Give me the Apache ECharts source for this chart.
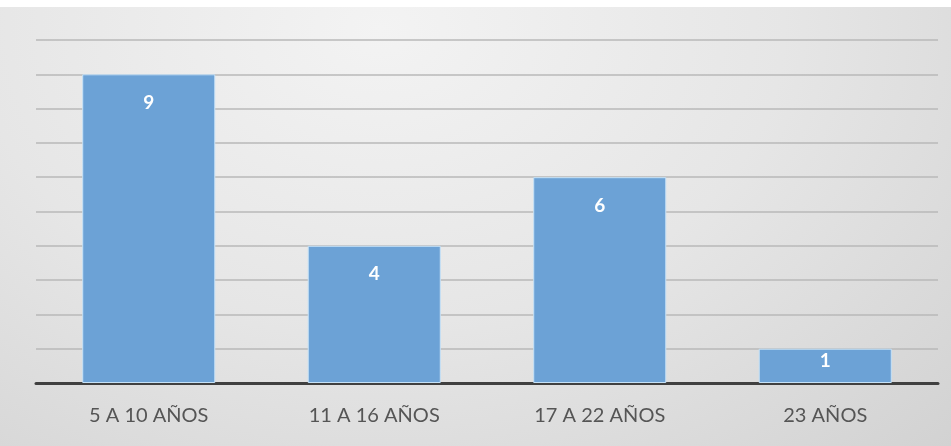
<!DOCTYPE html>
<html><head><meta charset="utf-8">
<script src="https://cdn.jsdelivr.net/npm/echarts@6/dist/echarts.min.js"></script>
<style>
html,body{margin:0;padding:0;background:#fff;}
#wrap{position:absolute;left:0;top:7px;width:951px;height:439px;
background:radial-gradient(ellipse at 40% 5%, #f3f3f3 0%, #e6e6e6 50%, #d2d2d2 100%);}
#c{position:absolute;left:0;top:0;width:951px;height:446px;}
</style></head>
<body><div id="wrap"></div><div id="c"></div>
<script>
const categories = ['5 A 10 AÑOS','11 A 16 AÑOS','17 A 22 AÑOS','23 AÑOS'];
const values = [9,4,6,1];
const yMin = 0, yMax = 10, yStep = 1;

const chart = echarts.init(document.getElementById('c'), null, {renderer:'canvas'});
chart.setOption({
  backgroundColor:'transparent',
  animation:false,
  grid:{left:36,right:13,top:40,bottom:63},
  xAxis:{type:'category',data:categories,
    axisLine:{lineStyle:{color:'#404040',width:3}},
    axisTick:{show:false},
    axisLabel:{color:'#555555',fontSize:20,fontFamily:'Lato, sans-serif',margin:23}},
  yAxis:{type:'value',min:yMin,max:yMax,interval:yStep,
    axisLabel:{show:false},axisLine:{show:false},axisTick:{show:false},
    splitLine:{lineStyle:{color:'#b9b9b9',width:1.5}}},
  series:[{type:'bar',barWidth:'59%',
    data:values.map(v=>({value:v,label:v<2?{distance:3}:{}})),
    itemStyle:{color:'#6ca2d6',borderColor:'#c6e2f7',borderWidth:1},
    label:{show:true,position:'insideTop',distance:19,color:'#ffffff',
      fontWeight:'bold',fontSize:19,fontFamily:'Lato, sans-serif'}}]
});
</script></body></html>
